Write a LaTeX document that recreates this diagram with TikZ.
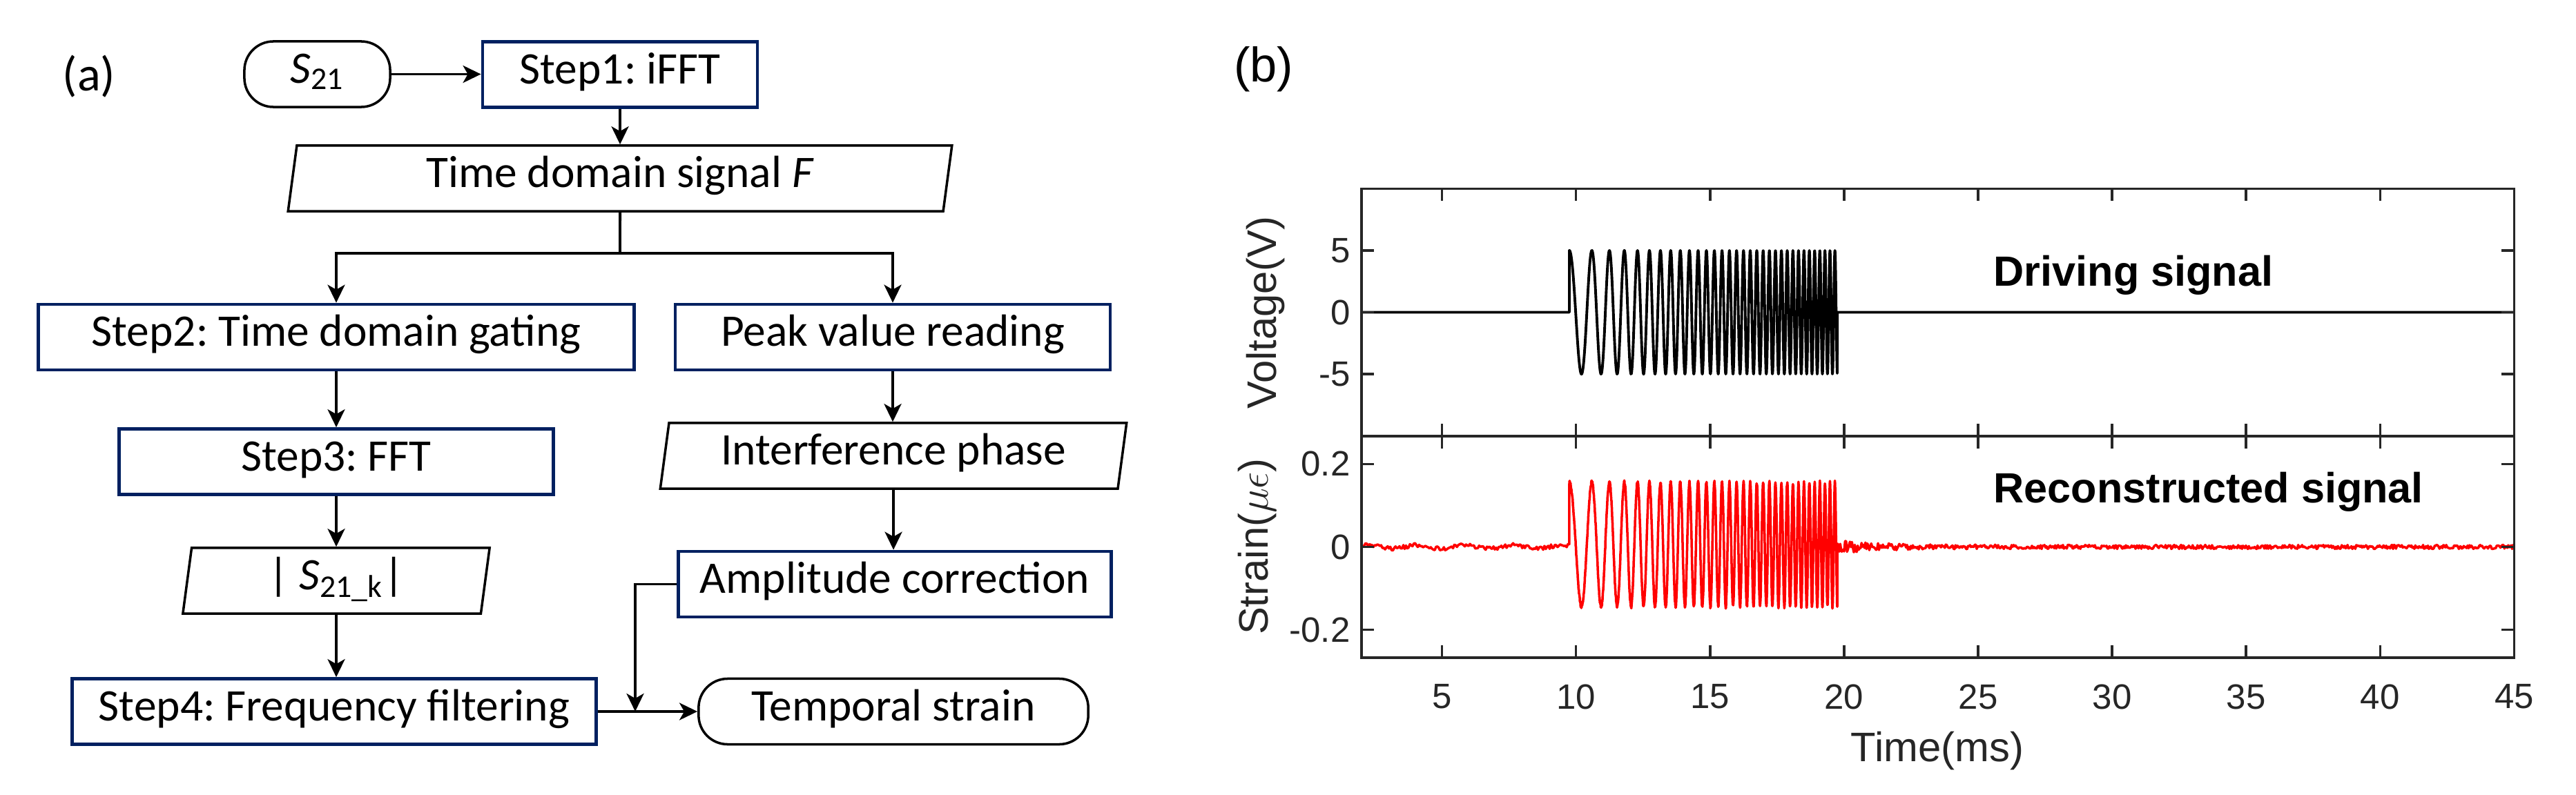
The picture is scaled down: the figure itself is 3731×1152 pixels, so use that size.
\documentclass[tikz,border=0pt]{standalone}
\usepackage{fontspec}
\setmainfont{Carlito}
\newfontfamily\arialfont{Liberation Sans}
\usepackage{tikz}
\usetikzlibrary{arrows.meta,shapes.geometric}
\definecolor{navy}{RGB}{0,32,96}
\definecolor{axgray}{RGB}{38,38,38}
\frenchspacing
\tikzset{
  stepbox/.style={draw=navy,line width=1.3pt,minimum height=0.95cm,text height=0.74em,text depth=0pt,inner sep=0pt},
  endbox/.style={draw,line width=1pt,rounded corners=0.42cm,minimum height=0.95cm,text height=0.74em,text depth=0pt,inner sep=0pt},
  iobox/.style={draw,line width=1pt,trapezium,trapezium left angle=64,trapezium right angle=116,trapezium stretches body,minimum height=0.95cm,text height=0.74em,text depth=0pt,inner sep=0pt},
  arr/.style={line width=1.1pt,-{Stealth[length=0.26cm,width=0.25cm,inset=0.07cm]}},
  frame/.style={draw=axgray,line width=1pt},
  wave/.style={line width=1.1pt,line join=round},
  ticklab/.style={font=\arialfont\fontsize{14.5}{17}\selectfont,text=axgray,inner sep=0pt},
  axlab/.style={font=\arialfont\fontsize{17}{20}\selectfont,text=axgray,inner sep=0pt},
  tag/.style={font=\arialfont\bfseries\fontsize{17.4}{20}\selectfont,inner sep=0pt,anchor=base west}
}
\begin{document}
\begin{tikzpicture}[x=0.01cm,y=-0.01cm,font=\fontsize{18.6}{22}\selectfont]
    \useasboundingbox (0,0) rectangle (3731,1152);
    \pgfmathsetseed{7}
    \node[font=\fontsize{20}{24}\selectfont] (pa) at (129,111) {(a)};
    \node[endbox,minimum width=2.11cm] (s21) at (459.5,107.5) {\textit{S}\textsubscript{21}};
    \node[stepbox,minimum width=3.98cm] (st1) at (898,108) {Step1: iFFT};
    \node[iobox,minimum width=9.61cm] (sig) at (898,258.5) {Time domain signal \textit{F}};
    \node[stepbox,minimum width=8.62cm] (st2) at (487,488.5) {Step2: Time domain gating};
    \node[stepbox,minimum width=6.30cm] (peak) at (1293,488.5) {Peak value reading};
    \node[stepbox,minimum width=6.29cm] (st3) at (487,669) {Step3: FFT};
    \node[iobox,minimum width=6.75cm] (phase) at (1294,660.5) {Interference phase};
    \node[iobox,minimum width=4.44cm] (mag) at (487,841.5) {| \textit{S}\textsubscript{21\_k}|};
    \node[stepbox,minimum width=6.27cm] (amp) at (1296,846.5) {Amplitude correction};
    \node[stepbox,minimum width=7.59cm] (st4) at (484,1031) {Step4: Frequency filtering};
    \node[endbox,minimum width=5.64cm] (strain) at (1294,1031) {Temporal strain};
    \coordinate (fork) at (898,367);
    \coordinate (join) at (920,1031);

    \draw[arr] (s21.east) -- (s21.east -| st1.west);
    \draw[arr] (st1) -- (sig);
    \draw[line width=1.1pt] (sig.south) -- (fork);
    \draw[arr] (fork) -| (st2.north);
    \draw[arr] (fork) -| (peak.north);
    \draw[arr] (st2) -- (st3);
    \draw[arr] (st3) -- (mag);
    \draw[arr] (mag.south) -- (mag.south |- st4.north);
    \draw[arr] (peak.south) -- (peak.south |- phase.north);
    \draw[arr] (phase.south) -- (phase.south |- amp.north);
    \draw[arr] (st4) -- (strain);
    \draw[arr] (amp.west) -| (join);

    \node[font=\arialfont\fontsize{20}{24}\selectfont,inner sep=0pt] (pb) at (1830,100) {(b)};
    \begin{scope}[shift={(1894.4,452.5)},x=0.388cm,y=0.179cm]
        \draw[wave] (2,0) -- (9.75,0) -- plot[domain=9.75:19.75,samples=1500] (\x,{5*cos(360*((\x-9.75)+0.225*(\x-9.75)^2))}) -- (19.75,0) -- (45,0);
        \draw[frame] (2,-10) rectangle (45,10);
        \foreach \t in {5,10,...,40}
            \draw[frame] (\t,-10) -- ++(0,0.18cm) (\t,10) -- ++(0,-0.18cm);
        \foreach \v in {-5,0,5} {
            \draw[frame] (2,\v) -- ++(0.18cm,0) (45,\v) -- ++(-0.18cm,0);
            \node[ticklab,anchor=east] at ([xshift=-0.16cm]2,\v) {\v};
        }
    \end{scope}
    \begin{scope}[shift={(1894.4,792.5)},x=0.388cm,y=6cm]
        \draw[wave,red,line width=1pt] plot[domain=2:9.75,samples=160] (\x,{0.005*rand+0.004*sin(200*\x)}) -- plot[domain=9.75:19.75,samples=1500] (\x,{0.15*cos(360*((\x-9.75)+0.225*(\x-9.75)^2))+0.006+0.005*rand}) -- plot[domain=19.75:45,samples=700] (\x,{(0.005+0.012*exp(-(\x-19.75)/1.5))*rand});
        \draw[frame] (2,-0.2675) rectangle (45,0.2675);
        \foreach \t in {5,10,...,40}
            \draw[frame] (\t,-0.2675) -- ++(0,0.18cm) (\t,0.2675) -- ++(0,-0.18cm);
        \foreach \v in {-0.2,0,0.2} {
            \draw[frame] (2,\v) -- ++(0.18cm,0) (45,\v) -- ++(-0.18cm,0);
            \node[ticklab,anchor=east] at ([xshift=-0.16cm]2,\v) {\v};
        }
        \foreach \t in {5,10,...,45}
            \node[ticklab,anchor=north] at ([yshift=-0.38cm]\t,-0.2675) {\t};
    \end{scope}
    \node[axlab,rotate=90] (vl) at (1833,453) {Voltage(V)};
    \node[axlab,rotate=90] (sl) at (1821,792) {Strain($\mu\epsilon$)};
    \node[axlab,anchor=base] (tl) at (2806,1103) {Time(ms)};
    \node[tag] (ds) at (2887,415) {Driving signal};
    \node[tag] (rs) at (2887,728) {Reconstructed signal};
\end{tikzpicture}
\end{document}
